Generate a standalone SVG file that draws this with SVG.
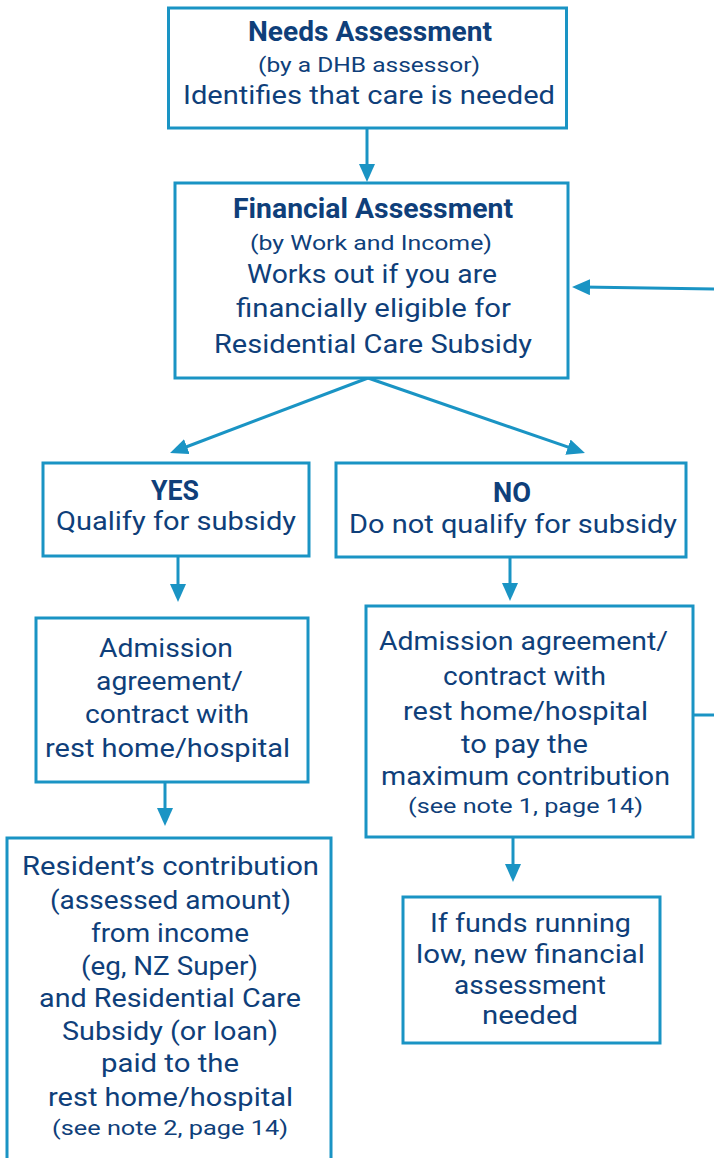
<svg xmlns="http://www.w3.org/2000/svg" width="714" height="1158" viewBox="0 0 714 1158">
<defs>
<style>
.box{fill:#fff;stroke:#1a94c4;stroke-width:3}
.t{font-family:Roboto,"Open Sans","Liberation Sans",sans-serif;fill:#0f3f7a;font-size:26px}
.b{font-weight:bold;font-size:27px}
.s{font-size:21px}
.n{font-size:20px}
.f{font-size:25px}
.c{stroke:#1a94c4;stroke-width:3;fill:none}
</style>
<marker id="ah" markerUnits="userSpaceOnUse" markerWidth="18" markerHeight="16" viewBox="0 0 18 16" refX="8" refY="8" orient="auto">
<path d="M0,0 L18,8 L0,16 z" fill="#1a94c4"/>
</marker>
</defs>
<rect width="714" height="1158" fill="#fff"/>
<g id="connectors">
<line class="c" x1="367" y1="128" x2="367" y2="172" marker-end="url(#ah)"/>
<line class="c" x1="714" y1="289" x2="582" y2="287.1" marker-end="url(#ah)"/>
<line class="c" x1="368" y1="378" x2="179.4" y2="449.5" marker-end="url(#ah)"/>
<line class="c" x1="368" y1="378" x2="575.5" y2="449.7" marker-end="url(#ah)"/>
<line class="c" x1="178" y1="557" x2="178" y2="592" marker-end="url(#ah)"/>
<line class="c" x1="165" y1="782" x2="165" y2="816" marker-end="url(#ah)"/>
<line class="c" x1="510" y1="557" x2="510" y2="591" marker-end="url(#ah)"/>
<line class="c" x1="513" y1="837" x2="513" y2="872" marker-end="url(#ah)"/>
<line class="c" x1="693" y1="715" x2="714" y2="715"/>
</g>
<g id="needs">
<rect class="box" x="168.5" y="8" width="398" height="120"/>
<text class="t b" x="248" y="41" textLength="244" lengthAdjust="spacingAndGlyphs">Needs Assessment</text>
<text class="t s" x="258" y="72" textLength="222" lengthAdjust="spacingAndGlyphs">(by a DHB assessor)</text>
<text class="t" x="183" y="104" textLength="372" lengthAdjust="spacingAndGlyphs">Identifies that care is needed</text>
</g>
<g id="financial">
<rect class="box" x="175" y="183" width="393" height="195"/>
<text class="t b" x="233" y="218" textLength="280" lengthAdjust="spacingAndGlyphs">Financial Assessment</text>
<text class="t s" x="250" y="250" textLength="242" lengthAdjust="spacingAndGlyphs">(by Work and Income)</text>
<text class="t" x="247" y="283" textLength="250" lengthAdjust="spacingAndGlyphs">Works out if you are</text>
<text class="t" x="236" y="317" textLength="275" lengthAdjust="spacingAndGlyphs">financially eligible for</text>
<text class="t" x="214" y="353" textLength="318" lengthAdjust="spacingAndGlyphs">Residential Care Subsidy</text>
</g>
<g id="yes">
<rect class="box" x="43" y="463" width="266" height="93"/>
<text class="t b" x="151" y="500" textLength="48" lengthAdjust="spacingAndGlyphs">YES</text>
<text class="t" x="56" y="530" textLength="240" lengthAdjust="spacingAndGlyphs">Qualify for subsidy</text>
</g>
<g id="no">
<rect class="box" x="336" y="463" width="350" height="94"/>
<text class="t b" x="493" y="502" textLength="38" lengthAdjust="spacingAndGlyphs">NO</text>
<text class="t" x="349" y="533" textLength="328" lengthAdjust="spacingAndGlyphs">Do not qualify for subsidy</text>
</g>
<g id="admission-yes">
<rect class="box" x="36" y="618" width="272" height="164"/>
<text class="t" x="99" y="657" textLength="134" lengthAdjust="spacingAndGlyphs">Admission</text>
<text class="t" x="96" y="690" textLength="147" lengthAdjust="spacingAndGlyphs">agreement/</text>
<text class="t" x="85" y="723" textLength="164" lengthAdjust="spacingAndGlyphs">contract with</text>
<text class="t" x="45" y="757" textLength="245" lengthAdjust="spacingAndGlyphs">rest home/hospital</text>
</g>
<g id="resident">
<rect class="box" x="7" y="838" width="324" height="340"/>
<text class="t" x="22" y="875" textLength="297" lengthAdjust="spacingAndGlyphs">Resident’s contribution</text>
<text class="t" x="50" y="909" textLength="241" lengthAdjust="spacingAndGlyphs">(assessed amount)</text>
<text class="t" x="91" y="942" textLength="158" lengthAdjust="spacingAndGlyphs">from income</text>
<text class="t" x="81" y="975" textLength="177" lengthAdjust="spacingAndGlyphs">(eg, NZ Super)</text>
<text class="t" x="39" y="1007" textLength="262" lengthAdjust="spacingAndGlyphs">and Residential Care</text>
<text class="t" x="62" y="1040" textLength="216" lengthAdjust="spacingAndGlyphs">Subsidy (or loan)</text>
<text class="t" x="101" y="1072" textLength="138" lengthAdjust="spacingAndGlyphs">paid to the</text>
<text class="t" x="48" y="1106" textLength="245" lengthAdjust="spacingAndGlyphs">rest home/hospital</text>
<text class="t n" x="52" y="1135" textLength="236" lengthAdjust="spacingAndGlyphs">(see note 2, page 14)</text>
</g>
<g id="admission-no">
<rect class="box" x="366" y="606" width="327" height="231"/>
<text class="t" x="379" y="650" textLength="289" lengthAdjust="spacingAndGlyphs">Admission agreement/</text>
<text class="t" x="443" y="685" textLength="163" lengthAdjust="spacingAndGlyphs">contract with</text>
<text class="t" x="403" y="720" textLength="245" lengthAdjust="spacingAndGlyphs">rest home/hospital</text>
<text class="t" x="461" y="753" textLength="127" lengthAdjust="spacingAndGlyphs">to pay the</text>
<text class="t" x="381" y="785" textLength="289" lengthAdjust="spacingAndGlyphs">maximum contribution</text>
<text class="t n" x="408" y="813" textLength="235" lengthAdjust="spacingAndGlyphs">(see note 1, page 14)</text>
</g>
<g id="funds">
<rect class="box" x="403" y="897" width="257" height="146"/>
<text class="t f" x="430" y="932" textLength="201" lengthAdjust="spacingAndGlyphs">If funds running</text>
<text class="t f" x="416" y="963" textLength="229" lengthAdjust="spacingAndGlyphs">low, new financial</text>
<text class="t f" x="454" y="994" textLength="152" lengthAdjust="spacingAndGlyphs">assessment</text>
<text class="t f" x="482" y="1024" textLength="96" lengthAdjust="spacingAndGlyphs">needed</text>
</g>
</svg>
